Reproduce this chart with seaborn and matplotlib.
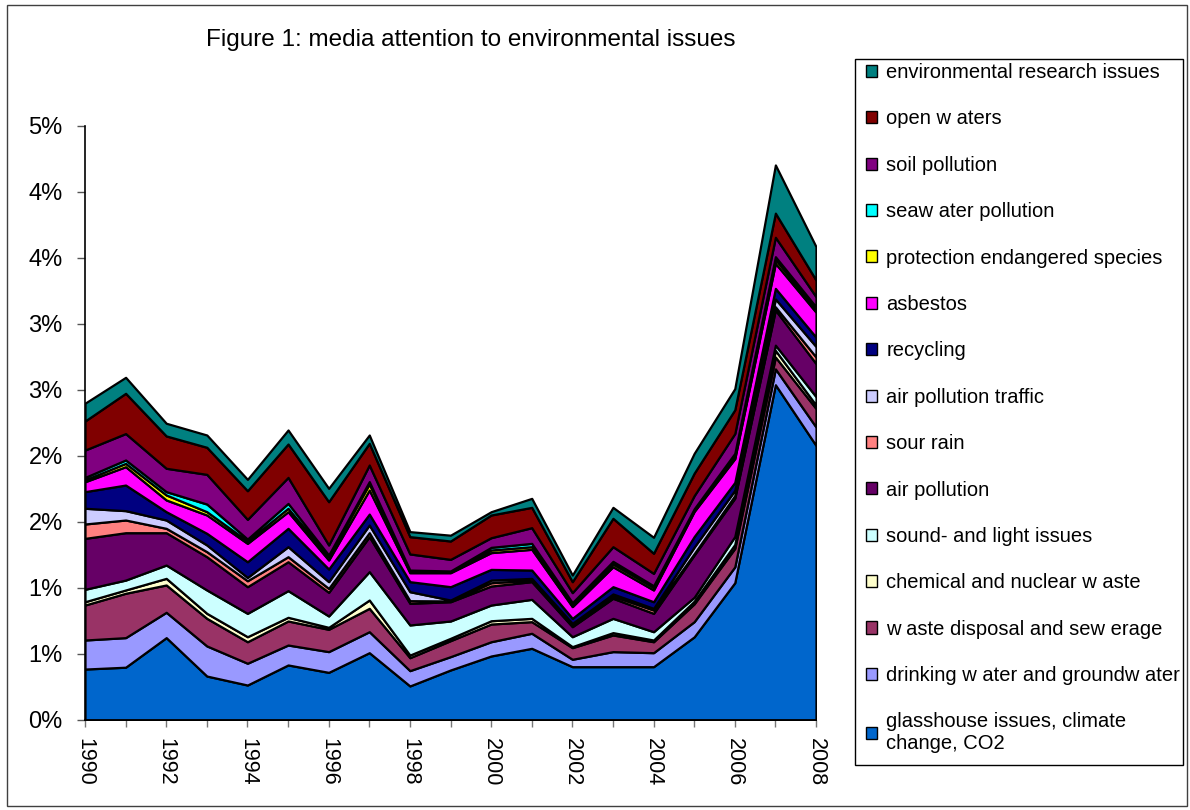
import matplotlib
matplotlib.use("Agg")
import matplotlib.pyplot as plt
import seaborn as sns
from matplotlib.patches import Patch, Rectangle

years = list(range(1990, 2009))

series_labels = [
    "glasshouse issues, climate\nchange, CO2",
    "drinking w ater and groundw ater",
    "w aste disposal and sew erage",
    "chemical and nuclear w aste",
    "sound- and light issues",
    "air pollution",
    "sour rain",
    "air pollution traffic",
    "recycling",
    "asbestos",
    "protection endangered species",
    "seaw ater pollution",
    "soil pollution",
    "open w aters",
    "environmental research issues",
]

glasshouse = [0.386, 0.40, 0.624, 0.333, 0.265, 0.417, 0.361, 0.51, 0.258, 0.379, 0.485, 0.543, 0.404, 0.404, 0.404, 0.63, 1.04, 2.54, 2.08]
drinking = [0.22, 0.224, 0.192, 0.228, 0.165, 0.151, 0.157, 0.159, 0.116, 0.101, 0.108, 0.114, 0.056, 0.114, 0.106, 0.115, 0.12, 0.12, 0.14]
waste = [0.265, 0.336, 0.207, 0.209, 0.163, 0.182, 0.169, 0.177, 0.098, 0.121, 0.134, 0.088, 0.088, 0.126, 0.083, 0.135, 0.14, 0.09, 0.14]
chemical = [0.025, 0.025, 0.05, 0.038, 0.038, 0.028, 0.015, 0.063, 0.02, 0.018, 0.025, 0.025, 0.008, 0.018, 0.013, 0.02, 0.03, 0.05, 0.026]
sound = [0.094, 0.075, 0.101, 0.177, 0.177, 0.202, 0.086, 0.215, 0.228, 0.131, 0.119, 0.144, 0.075, 0.108, 0.063, 0.03, 0.06, 0.04, 0.064]
air_pollution = [0.386, 0.359, 0.245, 0.252, 0.202, 0.219, 0.179, 0.265, 0.164, 0.146, 0.144, 0.134, 0.076, 0.152, 0.139, 0.32, 0.29, 0.266, 0.25]
sour_rain = [0.109, 0.096, 0.033, 0.038, 0.045, 0.038, 0.03, 0.03, 0.02, 0.006, 0.025, 0.012, 0.013, 0.017, 0.025, 0.01, 0.02, 0.024, 0.05]
traffic = [0.119, 0.071, 0.063, 0.051, 0.025, 0.076, 0.051, 0.058, 0.068, 0.007, 0.02, 0.013, 0.012, 0.016, 0.013, 0.05, 0.04, 0.06, 0.08]
recycling = [0.126, 0.194, 0.063, 0.088, 0.119, 0.139, 0.096, 0.083, 0.076, 0.101, 0.081, 0.063, 0.038, 0.055, 0.05, 0.08, 0.06, 0.08, 0.07]
asbestos = [0.075, 0.139, 0.089, 0.139, 0.139, 0.126, 0.068, 0.182, 0.068, 0.106, 0.127, 0.157, 0.089, 0.151, 0.089, 0.19, 0.18, 0.19, 0.19]
protection = [0.015, 0.025, 0.038, 0.025, 0.018, 0.026, 0.025, 0.046, 0.013, 0.008, 0.02, 0.02, 0.02, 0.021, 0.02, 0.01, 0.02, 0.03, 0.02]
seawater = [0.018, 0.026, 0.025, 0.058, 0.015, 0.037, 0.013, 0.018, 0.007, 0.005, 0.02, 0.025, 0.01, 0.02, 0.012, 0.01, 0.02, 0.02, 0.02]
soil = [0.207, 0.20, 0.177, 0.225, 0.149, 0.197, 0.076, 0.126, 0.122, 0.088, 0.073, 0.119, 0.076, 0.111, 0.094, 0.10, 0.15, 0.147, 0.077]
open_waters = [0.22, 0.305, 0.245, 0.205, 0.217, 0.253, 0.328, 0.164, 0.131, 0.139, 0.172, 0.154, 0.083, 0.215, 0.152, 0.17, 0.18, 0.183, 0.126]
research = [0.135, 0.121, 0.096, 0.093, 0.086, 0.106, 0.101, 0.063, 0.038, 0.044, 0.025, 0.068, 0.05, 0.083, 0.121, 0.15, 0.16, 0.365, 0.253]

colors = ["#0066CC", "#9999FF", "#993366", "#FFFFCC", "#CCFFFF", "#660066",
          "#FF8080", "#CCCCFF", "#000080", "#FF00FF", "#FFFF00", "#00FFFF",
          "#800080", "#800000", "#008080"]

ytick_values = [0, 0.5, 1.0, 1.5, 2.0, 2.5, 3.0, 3.5, 4.0, 4.5]
ytick_labels = ["0%", "1%", "1%", "2%", "2%", "3%", "3%", "4%", "4%", "5%"]
xtick_labels = [str(y) if y % 2 == 0 else "" for y in years]

title = "Figure 1: media attention to environmental issues"

sns.set_theme(style="white")
plt.rcParams["font.family"] = ["Liberation Sans", "DejaVu Sans"]
plt.rcParams["text.color"] = "black"
plt.rcParams["xtick.color"] = "black"
plt.rcParams["ytick.color"] = "black"
plt.rcParams["axes.labelcolor"] = "black"

series = [glasshouse, drinking, waste, chemical, sound, air_pollution, sour_rain,
          traffic, recycling, asbestos, protection, seawater, soil, open_waters, research]

fig = plt.figure(figsize=(11.9, 8.1), dpi=100)
ax = fig.add_axes([85 / 1190, 1 - 720 / 810, (816 - 85) / 1190, (720 - 126) / 810])

ax.stackplot(years, *series, colors=colors, edgecolor="black", linewidth=1.6)

ax.set_xlim(1990, 2008)
ax.set_ylim(0, 4.5)
ax.set_yticks(ytick_values)
ax.set_yticklabels(ytick_labels, fontsize=17)
ax.set_xticks(years)
ax.set_xticklabels(xtick_labels, rotation=270, fontsize=15.5, va="top", ha="center")
ax.tick_params(axis="y", direction="out", length=6, width=1, color="#555555", labelcolor="black", pad=10, left=True)
ax.tick_params(axis="x", direction="out", length=5, width=1, color="#777777", labelcolor="black", pad=8, bottom=True)
sns.despine(ax=ax, top=True, right=True)
for side in ("left", "bottom"):
    ax.spines[side].set_color("black")
    ax.spines[side].set_linewidth(1.2)
ax.grid(False)
ax.set_facecolor("white")

fig.text(471 / 1190, 1 - 40 / 810, title, ha="center", va="center", fontsize=17.5, color="black")

handles = [Patch(facecolor=c, edgecolor="black", linewidth=1) for c in colors]
leg = fig.legend(handles[::-1], series_labels[::-1], loc="upper left",
                 bbox_to_anchor=(866 / 1190, 1 - 63 / 810), bbox_transform=fig.transFigure,
                 frameon=False, fontsize=14.5, borderpad=0, borderaxespad=0,
                 handlelength=0.55, handleheight=0.55, handletextpad=0.45,
                 labelspacing=1.36)
for t in leg.get_texts():
    t.set_color("black")

fig.patches.append(Rectangle((855 / 1190, 1 - 765 / 810), (1183 - 855) / 1190, (765 - 59) / 810,
                             transform=fig.transFigure, fill=False, edgecolor="black", linewidth=1))
fig.patches.append(Rectangle((7 / 1190, 1 - 806 / 810), (1187 - 7) / 1190, (806 - 5) / 810,
                             transform=fig.transFigure, fill=False, edgecolor="#404040", linewidth=1))

fig.savefig("out.png", dpi=100, facecolor="white")
